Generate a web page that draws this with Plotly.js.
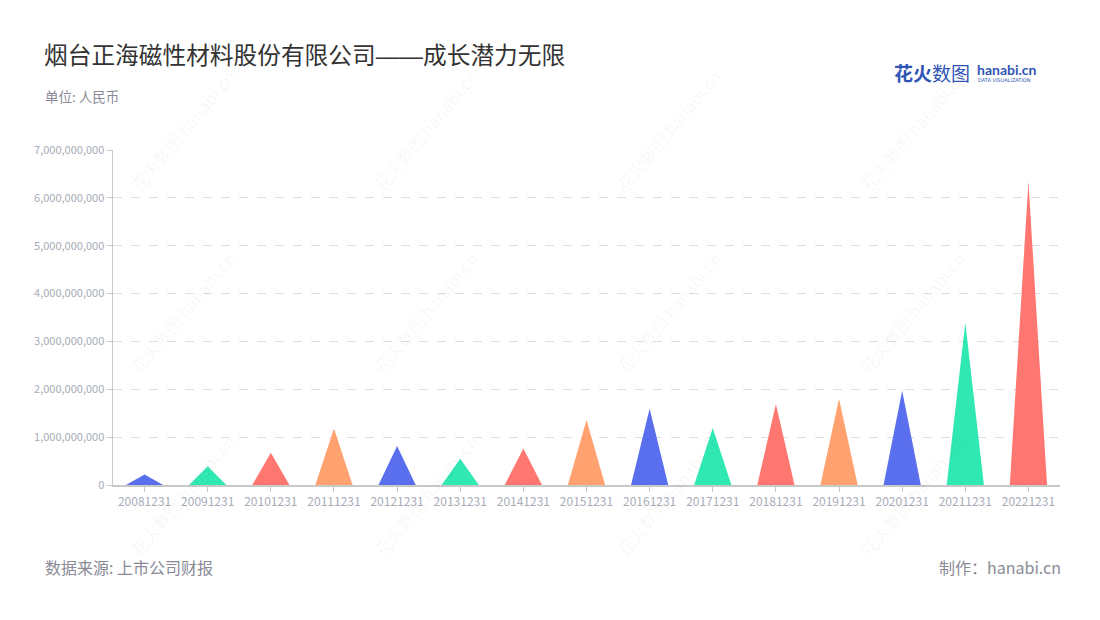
<!DOCTYPE html>
<html>
<head>
<meta charset="utf-8">
<script src="https://cdn.plot.ly/plotly-3.0.1.min.js"></script>
<style>html,body{margin:0;padding:0;background:#fff;}#chart{width:1100px;height:620px;}</style>
</head>
<body>
<div id="chart"></div>
<script>
// ---- data ----
const categories = ["20081231","20091231","20101231","20111231","20121231","20131231","20141231","20151231","20161231","20171231","20181231","20191231","20201231","20211231","20221231"];
const values = [220000000, 390000000, 675000000, 1180000000, 815000000, 550000000, 765000000, 1360000000, 1595000000, 1190000000, 1690000000, 1800000000, 1970000000, 3390000000, 6340000000];
const palette = ["#5A6FEE", "#2FE8B2", "#FF7770", "#FFA26F"];
const yTicks = [0, 1000000000, 2000000000, 3000000000, 4000000000, 5000000000, 6000000000, 7000000000];

const FONT = "'Noto Sans CJK SC', 'Noto Sans', sans-serif";
const L = 113, R = 1060, T = 150, B = 485;
const px = x => (x - L) / (R - L);
const py = y => (B - y) / (B - T);

const halfW = 0.295;
const traces = categories.map((c, i) => ({
  type: "scatter",
  mode: "lines",
  x: [i - halfW, i, i + halfW, i - halfW],
  y: [0, values[i], 0, 0],
  fill: "toself",
  fillcolor: palette[i % palette.length],
  line: {width: 0, color: palette[i % palette.length]},
  hoverinfo: "skip",
  showlegend: false
}));

const annotations = [];
// watermarks
const wmX = [182, 425, 668, 912];
const wmY = [130, 312, 495];
wmX.forEach(x => wmY.forEach(y => {
  annotations.push({xref: "paper", yref: "paper", x: px(x), y: py(y), text: "花火数图 hanabi.cn",
    showarrow: false, textangle: -50, font: {family: FONT, size: 17, color: "rgba(0,0,0,0.045)"}, xanchor: "center", yanchor: "middle"});
}));
// titles and footers
annotations.push({xref: "paper", yref: "paper", x: px(42), y: py(54), xanchor: "left", yanchor: "middle",
  text: "烟台正海磁性材料股份有限公司<span style=\"font-family:'Liberation Sans'\">——</span>成长潜力无限", showarrow: false, font: {family: FONT, size: 23.7, color: "#333"}});
annotations.push({xref: "paper", yref: "paper", x: px(43), y: py(96), xanchor: "left", yanchor: "middle",
  text: "单位: 人民币", showarrow: false, font: {family: FONT, size: 13.5, color: "#8a8a96"}});
annotations.push({xref: "paper", yref: "paper", x: px(43), y: py(567), xanchor: "left", yanchor: "middle",
  text: "数据来源: 上市公司财报", showarrow: false, font: {family: FONT, size: 16, color: "#8a8a96"}});
annotations.push({xref: "paper", yref: "paper", x: px(1063), y: py(567), xanchor: "right", yanchor: "middle",
  text: "制作：hanabi.cn", showarrow: false, font: {family: FONT, size: 16, color: "#8a8a96"}});
// logo
annotations.push({xref: "paper", yref: "paper", x: px(892), y: py(72), xanchor: "left", yanchor: "middle",
  text: "<b>花火</b>数图", showarrow: false, font: {family: FONT, size: 19, color: "#2F55B5"}});
annotations.push({xref: "paper", yref: "paper", x: px(975), y: py(69), xanchor: "left", yanchor: "middle",
  text: "<b>hanabi.cn</b>", showarrow: false, font: {family: "Lato, 'DejaVu Sans', sans-serif", size: 14, color: "#2F55B5"}});
annotations.push({xref: "paper", yref: "paper", x: px(976), y: py(80), xanchor: "left", yanchor: "middle",
  text: "DATA VISUALIZATION", showarrow: false, font: {family: "'DejaVu Sans', sans-serif", size: 5, color: "#2F55B5"}});

const layout = {
  width: 1100, height: 620,
  margin: {l: L, r: 1100 - R, t: T, b: 620 - B, pad: 0},
  paper_bgcolor: "#fff", plot_bgcolor: "#fff",
  font: {family: FONT},
  showlegend: false,
  xaxis: {
    range: [-0.5, categories.length - 0.5],
    tickmode: "array", tickvals: categories.map((c, i) => i), ticktext: categories,
    showgrid: false, zeroline: false,
    showline: true, linecolor: "#c8c8c8", linewidth: 1.5,
    ticks: "outside", ticklen: 5, tickcolor: "#c8c8c8",
    tickfont: {family: FONT, size: 12, color: "#a8acb8"},
    fixedrange: true
  },
  yaxis: {
    range: [0, 7000000000],
    tickmode: "array", tickvals: yTicks, ticktext: yTicks.map(v => v.toLocaleString("en-US")),
    showgrid: true, gridcolor: "#dedede", griddash: "dash", gridwidth: 1,
    zeroline: false,
    showline: true, linecolor: "#c8c8c8", linewidth: 1.5,
    ticks: "outside", ticklen: 5, tickcolor: "#c8c8c8",
    tickfont: {family: FONT, size: 11, color: "#a8acb8"},
    fixedrange: true
  },
  annotations: annotations
};

Plotly.newPlot("chart", traces, layout, {displayModeBar: false, staticPlot: true});
</script>
</body>
</html>
